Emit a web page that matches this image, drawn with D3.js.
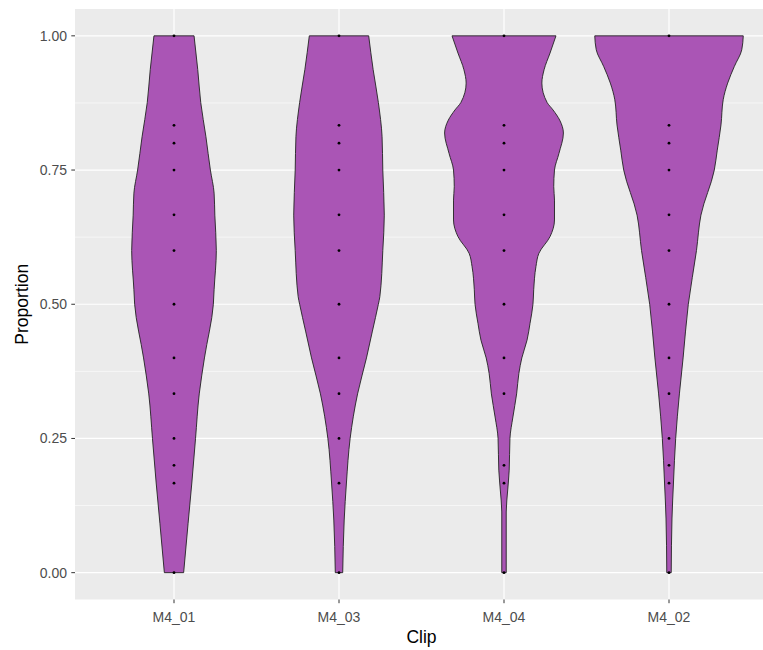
<!DOCTYPE html>
<html>
<head>
<meta charset="utf-8">
<script src="https://cdn.jsdelivr.net/npm/d3@7"></script>
<style>
  body { margin: 0; background: #fff; }
  text { font-family: "Liberation Sans", Arial, sans-serif; }
</style>
</head>
<body>
<div id="vis"></div>
<script>
// data
var categories = ["M4_01", "M4_03", "M4_04", "M4_02"];
var y_ticks = [0, 0.25, 0.5, 0.75, 1];
var y_minor = [0.125, 0.375, 0.625, 0.875];
var y_tick_labels = ["0.00", "0.25", "0.50", "0.75", "1.00"];

// violin outlines: proportion -> relative half width (1 = widest violin)
var m4_01_y = [0, 0.092, 0.167, 0.25, 0.333, 0.4, 0.5, 0.527, 0.6, 0.666, 0.707, 0.75, 0.812, 0.876, 0.937, 1];
var m4_01_w = [0.13, 0.19, 0.24, 0.29, 0.34, 0.41, 0.53, 0.54, 0.57, 0.55, 0.54, 0.49, 0.43, 0.36, 0.32, 0.27];

var m4_03_y = [0, 0.098, 0.167, 0.25, 0.333, 0.4, 0.45, 0.5, 0.514, 0.6, 0.666, 0.75, 0.812, 0.876, 0.937, 1];
var m4_03_w = [0.05, 0.07, 0.10, 0.15, 0.25, 0.37, 0.45, 0.53, 0.55, 0.59, 0.61, 0.59, 0.58, 0.53, 0.46, 0.40];

var m4_04_y = [0, 0.113, 0.154, 0.191, 0.25, 0.29, 0.333, 0.371, 0.4, 0.433, 0.464, 0.5, 0.527, 0.57, 0.595, 0.626, 0.657, 0.694, 0.719, 0.75, 0.781, 0.819, 0.843, 0.862, 0.876, 0.912, 0.937, 0.968, 1];
var m4_04_w = [0.03, 0.03, 0.05, 0.07, 0.08, 0.12, 0.17, 0.20, 0.24, 0.31, 0.35, 0.39, 0.40, 0.43, 0.47, 0.62, 0.68, 0.68, 0.67, 0.68, 0.74, 0.80, 0.75, 0.66, 0.58, 0.51, 0.54, 0.62, 0.70];

var m4_02_y = [0, 0.1, 0.167, 0.25, 0.333, 0.4, 0.5, 0.6, 0.666, 0.75, 0.787, 0.834, 0.881, 0.912, 0.943, 0.974, 1];
var m4_02_w = [0.03, 0.04, 0.06, 0.09, 0.14, 0.19, 0.26, 0.37, 0.43, 0.61, 0.65, 0.70, 0.73, 0.79, 0.88, 0.98, 1.0];

// observed proportions (one dot per distinct value)
var m4_01_pts = [0, 1/6, 0.2, 0.25, 1/3, 0.4, 0.5, 0.6, 2/3, 0.75, 0.8, 5/6, 1];
var m4_03_pts = [0, 1/6, 0.25, 1/3, 0.4, 0.5, 0.6, 2/3, 0.75, 0.8, 5/6, 1];
var m4_04_pts = [0, 1/6, 0.2, 1/3, 0.4, 0.5, 0.6, 2/3, 0.75, 0.8, 5/6, 1];
var m4_02_pts = [0, 1/6, 0.2, 0.25, 1/3, 0.4, 0.5, 0.6, 2/3, 0.75, 0.8, 5/6, 1];

var violins = [
  {"clip": "M4_01", "ys": m4_01_y, "ws": m4_01_w, "pts": m4_01_pts},
  {"clip": "M4_03", "ys": m4_03_y, "ws": m4_03_w, "pts": m4_03_pts},
  {"clip": "M4_04", "ys": m4_04_y, "ws": m4_04_w, "pts": m4_04_pts},
  {"clip": "M4_02", "ys": m4_02_y, "ws": m4_02_w, "pts": m4_02_pts}
];

var opts = {
  "width": 763,
  "height": 650,
  "left": 75,
  "right": 768,   // panel runs past the picture edge
  "top": 9,
  "bottom": 599.5,
  "fill": "#AA55B5"
};

var svg = d3.select("#vis")
  .append("svg")
  .attr("width", opts.width)
  .attr("height", opts.height);

var x = d3.scalePoint().domain(categories).range([opts.left, opts.right]).padding(0.6);
var y = d3.scaleLinear().domain([-0.05, 1.05]).range([opts.bottom, opts.top]);
var w = d3.scaleLinear().domain([0, 1]).range([0, 0.45 * x.step()]);

// panel + grid
svg.append("rect")
  .attr("x", opts.left).attr("y", opts.top)
  .attr("width", opts.right - opts.left).attr("height", opts.bottom - opts.top)
  .attr("fill", "#EBEBEB");

svg.selectAll(".minor").data(y_minor).enter().append("line")
  .attr("x1", opts.left).attr("x2", opts.right)
  .attr("y1", function(d) { return y(d); }).attr("y2", function(d) { return y(d); })
  .attr("stroke", "#fff").attr("stroke-width", 0.6);

svg.selectAll(".hmajor").data(y_ticks).enter().append("line")
  .attr("x1", opts.left).attr("x2", opts.right)
  .attr("y1", function(d) { return y(d); }).attr("y2", function(d) { return y(d); })
  .attr("stroke", "#fff").attr("stroke-width", 1.2);

svg.selectAll(".vmajor").data(categories).enter().append("line")
  .attr("y1", opts.top).attr("y2", opts.bottom)
  .attr("x1", function(d) { return x(d); }).attr("x2", function(d) { return x(d); })
  .attr("stroke", "#fff").attr("stroke-width", 1.2);

// violins
var g = svg.selectAll(".violin").data(violins).enter().append("g").attr("class", "violin");

g.append("path")
  .attr("d", function(v) {
    var rows = v.ys.map(function(p, i) { return [p, v.ws[i]]; });
    return d3.area()
      .curve(d3.curveMonotoneY)
      .y(function(r) { return y(r[0]); })
      .x0(function(r) { return x(v.clip) - w(r[1]); })
      .x1(function(r) { return x(v.clip) + w(r[1]); })(rows);
  })
  .attr("fill", opts.fill)
  .attr("stroke", "#222")
  .attr("stroke-width", 0.9);

g.selectAll("circle")
  .data(function(v) { return v.pts.map(function(p) { return {"clip": v.clip, "p": p}; }); })
  .enter().append("circle")
  .attr("cx", function(d) { return x(d.clip); })
  .attr("cy", function(d) { return y(d.p); })
  .attr("r", 1.4)
  .attr("fill", "#000");

// y axis
svg.selectAll(".ytick").data(y_ticks).enter().append("line")
  .attr("x1", opts.left - 3.7).attr("x2", opts.left)
  .attr("y1", function(d) { return y(d); }).attr("y2", function(d) { return y(d); })
  .attr("stroke", "#333").attr("stroke-width", 1);

svg.selectAll(".ylab").data(y_ticks).enter().append("text")
  .attr("x", opts.left - 8)
  .attr("y", function(d) { return y(d); })
  .attr("dy", "0.36em")
  .attr("text-anchor", "end")
  .attr("font-size", 14)
  .attr("fill", "#4D4D4D")
  .text(function(d, i) { return y_tick_labels[i]; });

// x axis
svg.selectAll(".xtick").data(categories).enter().append("line")
  .attr("x1", function(d) { return x(d); }).attr("x2", function(d) { return x(d); })
  .attr("y1", opts.bottom).attr("y2", opts.bottom + 3.7)
  .attr("stroke", "#333").attr("stroke-width", 1);

svg.selectAll(".xlab").data(categories).enter().append("text")
  .attr("x", function(d) { return x(d); })
  .attr("y", 621.5)
  .attr("text-anchor", "middle")
  .attr("font-size", 14)
  .attr("fill", "#4D4D4D")
  .text(function(d) { return d; });

// titles
svg.append("text")
  .attr("x", (opts.left + opts.right) / 2)
  .attr("y", 643)
  .attr("text-anchor", "middle")
  .attr("font-size", 17.5)
  .attr("fill", "#000")
  .text("Clip");

svg.append("text")
  .attr("transform", "translate(28," + ((opts.top + opts.bottom) / 2) + ") rotate(-90)")
  .attr("text-anchor", "middle")
  .attr("font-size", 17.5)
  .attr("fill", "#000")
  .text("Proportion");
</script>
</body>
</html>
